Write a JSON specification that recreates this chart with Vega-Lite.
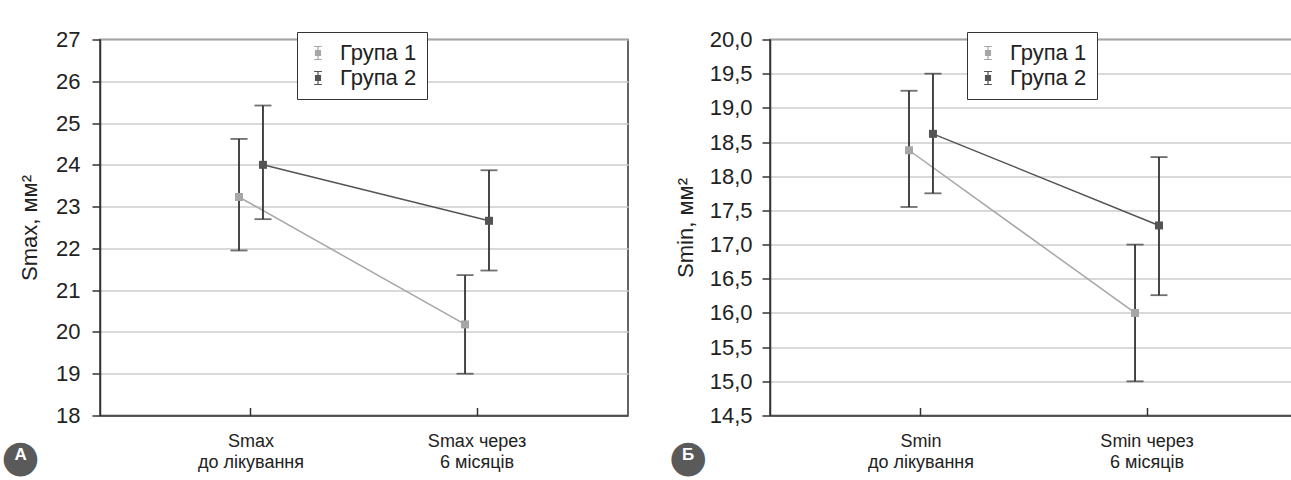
{
  "$schema": "https://vega.github.io/schema/vega-lite/v6.json",
  "background": "white",
  "padding": {"left": 0, "top": 27.5, "right": 0, "bottom": 0},
  "spacing": 39,
  "config": {
    "font": "Liberation Sans",
    "view": {"stroke": "#333333", "strokeWidth": 1.5},
    "axis": {
      "labelFont": "Liberation Sans", "labelFontSize": 22, "labelColor": "#222222",
      "titleFont": "Liberation Sans", "titleFontSize": 22, "titleFontWeight": "normal", "titleColor": "#222222",
      "tickColor": "#333333", "tickWidth": 1.5, "domainColor": "#333333", "domainWidth": 1.5,
      "gridColor": "#cccccc", "gridWidth": 1.5
    },
    "legend": {
      "labelFont": "Liberation Sans", "labelFontSize": 22, "labelColor": "#222222"
    }
  },
  "resolve": {
    "scale": {"color": "independent", "y": "independent", "x": "independent"},
    "legend": {"color": "independent"}
  },
  "datasets": {
    "smax": [
      {"stage": "Smax\nдо лікування", "group": "Група 1", "mean": 23.23, "lo": 21.95, "hi": 24.62},
      {"stage": "Smax\nдо лікування", "group": "Група 2", "mean": 24.0, "lo": 22.7, "hi": 25.42},
      {"stage": "Smax через\n6 місяців", "group": "Група 1", "mean": 20.18, "lo": 19.0, "hi": 21.36},
      {"stage": "Smax через\n6 місяців", "group": "Група 2", "mean": 22.66, "lo": 21.47, "hi": 23.87}
    ],
    "smin": [
      {"stage": "Smin\nдо лікування", "group": "Група 1", "mean": 18.38, "lo": 17.55, "hi": 19.25},
      {"stage": "Smin\nдо лікування", "group": "Група 2", "mean": 18.62, "lo": 17.75, "hi": 19.5},
      {"stage": "Smin через\n6 місяців", "group": "Група 1", "mean": 16.0, "lo": 15.0, "hi": 17.0},
      {"stage": "Smin через\n6 місяців", "group": "Група 2", "mean": 17.28, "lo": 16.26, "hi": 18.28}
    ]
  },
  "hconcat": [
    {
      "width": 528, "height": 376,
      "data": {"name": "smax"},
      "title": {
        "text": "●", "subtitle": "A", "orient": "bottom", "anchor": "start", "frame": "bounds",
        "align": "center", "dx": 2, "offset": -36,
        "font": "DejaVu Sans", "fontSize": 44, "fontWeight": "normal", "color": "#5a5a5a",
        "subtitleFont": "Liberation Sans", "subtitleFontSize": 17, "subtitleFontWeight": "bold",
        "subtitleColor": "white", "subtitlePadding": -33
      },
      "encoding": {
        "x": {
          "field": "stage", "type": "nominal", "sort": null,
          "scale": {"paddingInner": 0.788, "paddingOuter": 0.562},
          "axis": {"title": null, "labelAngle": 0, "labelExpr": "split(datum.label, '\\n')",
                   "labelFontSize": 18, "labelLineHeight": 21, "tickSize": -8, "labelPadding": 25, "grid": false}
        },
        "xOffset": {"field": "group", "type": "nominal", "sort": null},
        "y": {
          "field": "mean", "type": "quantitative",
          "scale": {"domain": [18, 27], "nice": false, "zero": false},
          "axis": {"title": "Smax, мм²", "values": [18, 19, 20, 21, 22, 23, 24, 25, 26, 27],
                   "tickSize": 8, "labelPadding": 12, "titlePadding": 14, "grid": true}
        },
        "color": {"field": "group", "type": "nominal", "sort": null,
                  "scale": {"domain": ["Група 1", "Група 2"], "range": ["#a6a6a6", "#545454"]},
                  "legend": {
                    "title": null, "orient": "none", "legendX": 197, "legendY": -7.5,
                    "strokeColor": "#333333", "fillColor": "white", "padding": 10,
                    "symbolType": "M-0.6,-1H0.6M0,-1V1M-0.6,1H0.6M-0.38,-0.38H0.38V0.38H-0.38Z",
                    "symbolSize": 169, "symbolStrokeColor": "#333333", "symbolStrokeWidth": 1.2,
                    "labelOffset": 11, "rowPadding": 3
                  }}
      },
      "layer": [
        {
          "mark": {"type": "line", "strokeWidth": 1.5}
        },
        {
          "mark": {"type": "rule", "strokeWidth": 1.8},
          "encoding": {"y": {"field": "lo", "type": "quantitative"}, "y2": {"field": "hi"}, "color": {"value": "#333333"}}
        },
        {
          "mark": {"type": "tick", "size": 17, "thickness": 1.8, "orient": "horizontal"},
          "encoding": {"y": {"field": "lo", "type": "quantitative"}, "color": {"value": "#333333"}}
        },
        {
          "mark": {"type": "tick", "size": 17, "thickness": 1.8, "orient": "horizontal"},
          "encoding": {"y": {"field": "hi", "type": "quantitative"}, "color": {"value": "#333333"}}
        },
        {
          "mark": {"type": "point", "shape": "square", "filled": true, "size": 64, "opacity": 1}
        }
      ]
    },
    {
      "width": 528, "height": 376,
      "data": {"name": "smin"},
      "title": {
        "text": "●", "subtitle": "Б", "orient": "bottom", "anchor": "start", "frame": "bounds",
        "align": "center", "dx": 14, "offset": -36,
        "font": "DejaVu Sans", "fontSize": 44, "fontWeight": "normal", "color": "#5a5a5a",
        "subtitleFont": "Liberation Sans", "subtitleFontSize": 17, "subtitleFontWeight": "bold",
        "subtitleColor": "white", "subtitlePadding": -33
      },
      "encoding": {
        "x": {
          "field": "stage", "type": "nominal", "sort": null,
          "scale": {"paddingInner": 0.788, "paddingOuter": 0.562},
          "axis": {"title": null, "labelAngle": 0, "labelExpr": "split(datum.label, '\\n')",
                   "labelFontSize": 18, "labelLineHeight": 21, "tickSize": -8, "labelPadding": 25, "grid": false}
        },
        "xOffset": {"field": "group", "type": "nominal", "sort": null},
        "y": {
          "field": "mean", "type": "quantitative",
          "scale": {"domain": [14.5, 20], "nice": false, "zero": false},
          "axis": {"title": "Smin, мм²", "values": [14.5, 15, 15.5, 16, 16.5, 17, 17.5, 18, 18.5, 19, 19.5, 20],
                   "labelExpr": "replace(format(datum.value, '.1f'), '.', ',')",
                   "tickSize": 8, "labelPadding": 10, "titlePadding": 12, "grid": true}
        },
        "color": {"field": "group", "type": "nominal", "sort": null,
                  "scale": {"domain": ["Група 1", "Група 2"], "range": ["#a6a6a6", "#545454"]},
                  "legend": {
                    "title": null, "orient": "none", "legendX": 197, "legendY": -7.5,
                    "strokeColor": "#333333", "fillColor": "white", "padding": 10,
                    "symbolType": "M-0.6,-1H0.6M0,-1V1M-0.6,1H0.6M-0.38,-0.38H0.38V0.38H-0.38Z",
                    "symbolSize": 169, "symbolStrokeColor": "#333333", "symbolStrokeWidth": 1.2,
                    "labelOffset": 11, "rowPadding": 3
                  }}
      },
      "layer": [
        {
          "mark": {"type": "line", "strokeWidth": 1.5}
        },
        {
          "mark": {"type": "rule", "strokeWidth": 1.8},
          "encoding": {"y": {"field": "lo", "type": "quantitative"}, "y2": {"field": "hi"}, "color": {"value": "#333333"}}
        },
        {
          "mark": {"type": "tick", "size": 17, "thickness": 1.8, "orient": "horizontal"},
          "encoding": {"y": {"field": "lo", "type": "quantitative"}, "color": {"value": "#333333"}}
        },
        {
          "mark": {"type": "tick", "size": 17, "thickness": 1.8, "orient": "horizontal"},
          "encoding": {"y": {"field": "hi", "type": "quantitative"}, "color": {"value": "#333333"}}
        },
        {
          "mark": {"type": "point", "shape": "square", "filled": true, "size": 64, "opacity": 1}
        }
      ]
    }
  ]
}
